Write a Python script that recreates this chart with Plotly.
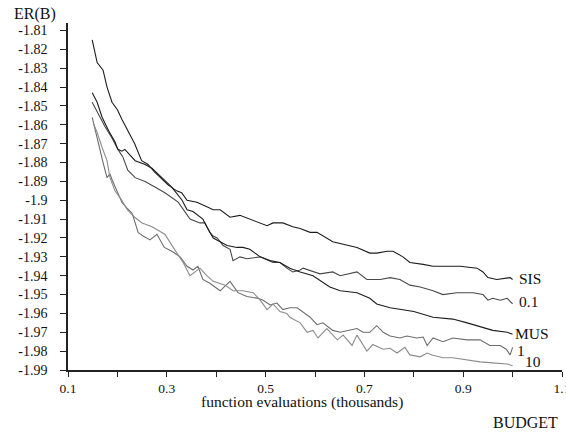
import plotly.graph_objects as go

# ---- data (x in thousands of evaluations, y = ER(B)) ----
SIS = [(0.149,-1.815),(0.155,-1.822),(0.159,-1.827),(0.171,-1.831),(0.179,-1.840),(0.189,-1.848),
       (0.200,-1.852),(0.209,-1.857),(0.221,-1.863),(0.235,-1.870),(0.249,-1.879),(0.262,-1.881),
       (0.275,-1.885),(0.290,-1.889),(0.303,-1.892),(0.320,-1.895),(0.330,-1.896),(0.341,-1.900),
       (0.361,-1.901),(0.381,-1.9035),(0.394,-1.905),(0.408,-1.905),(0.428,-1.909),(0.448,-1.908),
       (0.468,-1.910),(0.489,-1.912),(0.503,-1.9135),(0.515,-1.912),(0.535,-1.912),(0.555,-1.914),
       (0.570,-1.915),(0.590,-1.917),(0.604,-1.917),(0.636,-1.922),(0.665,-1.924),(0.685,-1.925),
       (0.711,-1.928),(0.725,-1.928),(0.746,-1.927),(0.758,-1.927),(0.778,-1.930),(0.792,-1.933),
       (0.819,-1.934),(0.839,-1.935),(0.859,-1.935),(0.894,-1.935),(0.928,-1.936),(0.940,-1.938),
       (0.950,-1.941),(0.968,-1.942),(0.995,-1.941),(1.000,-1.942)]

P01 = [(0.149,-1.848),(0.161,-1.854),(0.175,-1.861),(0.189,-1.867),(0.201,-1.873),(0.211,-1.877),
       (0.221,-1.884),(0.236,-1.888),(0.256,-1.890),(0.276,-1.893),(0.296,-1.896),(0.323,-1.901),
       (0.337,-1.906),(0.347,-1.910),(0.367,-1.912),(0.377,-1.912),(0.387,-1.917),(0.394,-1.919),
       (0.402,-1.920),(0.414,-1.924),(0.428,-1.926),(0.434,-1.932),(0.448,-1.930),(0.462,-1.931),
       (0.489,-1.930),(0.515,-1.933),(0.529,-1.933),(0.543,-1.936),(0.555,-1.938),(0.570,-1.937),
       (0.576,-1.936),(0.610,-1.939),(0.636,-1.938),(0.651,-1.940),(0.685,-1.938),(0.705,-1.942),
       (0.732,-1.942),(0.752,-1.941),(0.772,-1.942),(0.792,-1.945),(0.813,-1.946),(0.839,-1.948),
       (0.859,-1.950),(0.887,-1.949),(0.920,-1.949),(0.940,-1.950),(0.950,-1.953),(0.960,-1.952),
       (0.975,-1.953),(0.989,-1.952),(1.000,-1.955)]

MUS = [(0.149,-1.843),(0.159,-1.848),(0.169,-1.856),(0.182,-1.863),(0.195,-1.869),(0.201,-1.873),
       (0.209,-1.874),(0.215,-1.873),(0.236,-1.879),(0.256,-1.881),(0.270,-1.883),(0.290,-1.888),
       (0.310,-1.893),(0.331,-1.900),(0.341,-1.905),(0.353,-1.906),(0.373,-1.910),(0.381,-1.914),
       (0.387,-1.917),(0.394,-1.920),(0.408,-1.922),(0.422,-1.924),(0.442,-1.925),(0.454,-1.925),
       (0.468,-1.926),(0.489,-1.930),(0.509,-1.932),(0.529,-1.933),(0.549,-1.936),(0.570,-1.938),
       (0.596,-1.940),(0.630,-1.946),(0.651,-1.948),(0.685,-1.949),(0.711,-1.952),(0.725,-1.955),
       (0.752,-1.957),(0.772,-1.958),(0.792,-1.959),(0.800,-1.959),(0.839,-1.962),(0.879,-1.963),
       (0.908,-1.965),(0.934,-1.967),(0.960,-1.969),(0.989,-1.970),(1.000,-1.971)]

P1 = [(0.149,-1.856),(0.155,-1.863),(0.159,-1.867),(0.165,-1.873),(0.171,-1.880),(0.179,-1.888),
      (0.185,-1.886),(0.189,-1.889),(0.201,-1.896),(0.209,-1.901),(0.219,-1.904),(0.230,-1.907),
      (0.236,-1.912),(0.242,-1.917),(0.252,-1.919),(0.266,-1.921),(0.280,-1.918),(0.295,-1.925),
      (0.310,-1.927),(0.327,-1.930),(0.341,-1.935),(0.353,-1.937),(0.363,-1.935),(0.373,-1.942),
      (0.387,-1.944),(0.408,-1.948),(0.428,-1.943),(0.444,-1.949),(0.462,-1.951),(0.485,-1.952),
      (0.495,-1.953),(0.509,-1.9555),(0.523,-1.9545),(0.535,-1.958),(0.549,-1.957),(0.564,-1.957),
      (0.590,-1.962),(0.604,-1.966),(0.616,-1.965),(0.636,-1.969),(0.651,-1.970),(0.671,-1.969),
      (0.685,-1.968),(0.697,-1.970),(0.711,-1.970),(0.725,-1.9665),(0.738,-1.970),(0.752,-1.972),
      (0.772,-1.973),(0.786,-1.972),(0.806,-1.973),(0.819,-1.9725),(0.827,-1.977),(0.839,-1.973),
      (0.859,-1.975),(0.879,-1.973),(0.908,-1.974),(0.934,-1.974),(0.954,-1.977),(0.975,-1.977),
      (0.987,-1.979),(0.995,-1.982),(1.000,-1.978)]

P10 = [(0.151,-1.859),(0.159,-1.864),(0.169,-1.872),(0.179,-1.879),(0.185,-1.888),(0.195,-1.895),
       (0.209,-1.900),(0.220,-1.905),(0.235,-1.909),(0.250,-1.912),(0.270,-1.914),(0.296,-1.918),
       (0.313,-1.925),(0.333,-1.933),(0.347,-1.940),(0.367,-1.936),(0.381,-1.940),(0.394,-1.943),
       (0.418,-1.945),(0.434,-1.948),(0.454,-1.948),(0.475,-1.949),(0.489,-1.953),(0.503,-1.958),
       (0.515,-1.955),(0.529,-1.959),(0.543,-1.960),(0.549,-1.962),(0.570,-1.965),(0.584,-1.970),
       (0.596,-1.969),(0.606,-1.973),(0.624,-1.968),(0.645,-1.974),(0.657,-1.9715),(0.675,-1.977),
       (0.685,-1.9715),(0.705,-1.980),(0.717,-1.9765),(0.738,-1.979),(0.752,-1.9785),(0.766,-1.981),
       (0.782,-1.978),(0.792,-1.982),(0.813,-1.983),(0.827,-1.981),(0.837,-1.982),(0.859,-1.9835),
       (0.879,-1.9835),(0.908,-1.9846),(0.934,-1.9857),(0.960,-1.9862),(0.989,-1.9868),(1.000,-1.9878)]

SERIES_NAMES = ["SIS", "0.1", "MUS", "1", "10"]
SERIES_DATA = [SIS, P01, MUS, P1, P10]

X_TICKS = [0.1, 0.2, 0.3, 0.4, 0.5, 0.6, 0.7, 0.8, 0.9, 1.0, 1.1]
X_TICK_TEXT = ["0.1", "", "0.3", "", "0.5", "", "0.7", "", "0.9", "", "1.1"]
Y_TICKS = [-1.81, -1.82, -1.83, -1.84, -1.85, -1.86, -1.87, -1.88, -1.89, -1.9,
           -1.91, -1.92, -1.93, -1.94, -1.95, -1.96, -1.97, -1.98, -1.99]
Y_TICK_TEXT = ["-1.81", "-1.82", "-1.83", "-1.84", "-1.85", "-1.86", "-1.87", "-1.88", "-1.89", "-1.9",
               "-1.91", "-1.92", "-1.93", "-1.94", "-1.95", "-1.96", "-1.97", "-1.98", "-1.99"]

# ---- styles ----
COLORS = ["#1c1c1c", "#484848", "#1c1c1c", "#6c6c6c", "#8c8c8c"]
LABEL_SHIFT = [(4, 1), (4, 2), (0, 1), (2, -3), (10, 4)]  # pixel (x, y) shifts for end labels
FONT = "Liberation Serif, Times New Roman, serif"

fig = go.Figure()
annotations = []
for name, pts, col, (dx, dy) in zip(SERIES_NAMES, SERIES_DATA, COLORS, LABEL_SHIFT):
    xs = [p[0] for p in pts]
    ys = [p[1] for p in pts]
    fig.add_trace(go.Scatter(x=xs, y=ys, mode="lines", name=name,
                             line=dict(color=col, width=1.1), showlegend=False,
                             hoverinfo="skip"))
    annotations.append(dict(x=xs[-1], y=ys[-1], xref="x", yref="y", text=name,
                            showarrow=False, xanchor="left", yanchor="middle",
                            xshift=dx, yshift=dy,
                            font=dict(family=FONT, size=15.5, color="#111111")))

annotations += [
    dict(x=-0.1134, y=1.026, xref="paper", yref="paper", text="ER(B)", showarrow=False,
         xanchor="left", yanchor="middle", font=dict(family=FONT, size=16, color="#111111")),
    dict(x=0.4727, y=-0.091, xref="paper", yref="paper", text="function evaluations (thousands)",
         showarrow=False, xanchor="center", yanchor="middle",
         font=dict(family=FONT, size=15.5, color="#111111")),
    dict(x=0.996, y=-0.1527, xref="paper", yref="paper", text="BUDGET", showarrow=False,
         xanchor="right", yanchor="middle", font=dict(family=FONT, size=16, color="#111111")),
]

fig.update_layout(
    width=566, height=432,
    margin=dict(l=68, r=4, t=23, b=62, autoexpand=False),
    paper_bgcolor="white", plot_bgcolor="white",
    font=dict(family=FONT, size=14, color="#111111"),
    annotations=annotations,
    xaxis=dict(range=[0.1, 1.1], tickvals=X_TICKS, ticktext=X_TICK_TEXT,
               showgrid=False, zeroline=False, showline=True, linecolor="#222222", linewidth=1.5,
               ticks="outside", ticklen=5, tickwidth=1.2, tickcolor="#222222",
               ticklabeloverflow="allow", automargin=False,
               tickfont=dict(family=FONT, size=13.5, color="#111111")),
    yaxis=dict(range=[-1.99, -1.806], tickvals=Y_TICKS, ticktext=Y_TICK_TEXT,
               showgrid=False, zeroline=False, showline=True, linecolor="#222222", linewidth=1.5,
               ticks="outside", ticklen=6, tickwidth=1.2, tickcolor="#222222",
               ticklabelstandoff=10, automargin=False,
               tickfont=dict(family=FONT, size=14, color="#111111")),
)

fig.write_html("out.html", config={"displayModeBar": False},
               post_script="document.body.style.margin='0px';")
